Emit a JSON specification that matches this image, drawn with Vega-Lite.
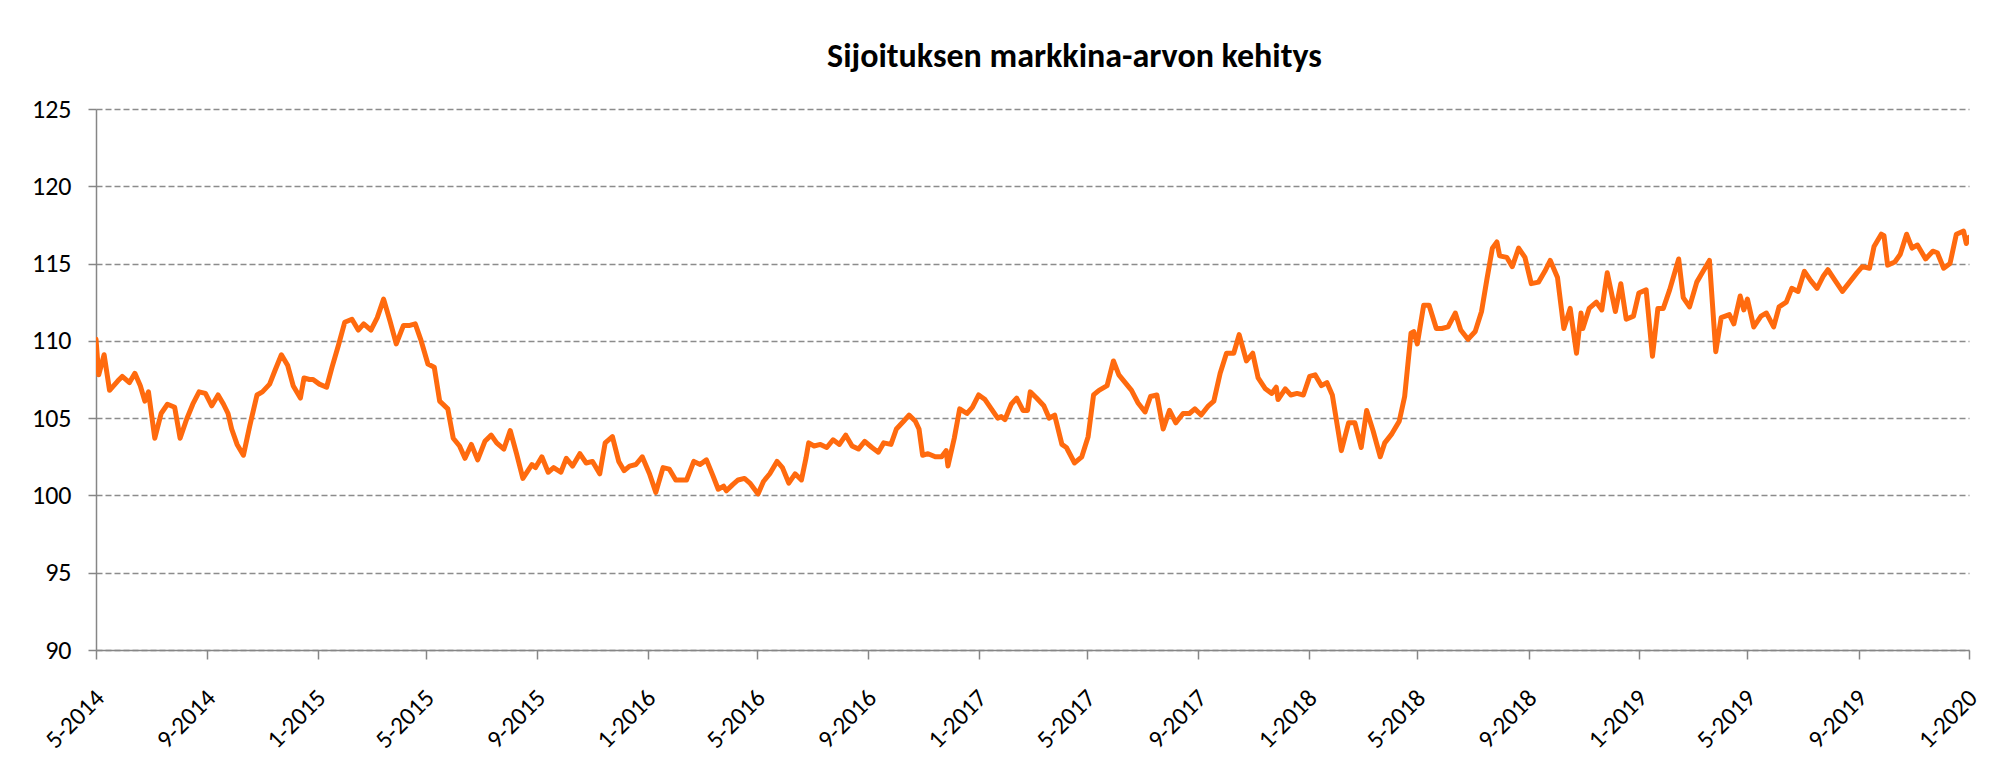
{
  "$schema": "https://vega.github.io/schema/vega-lite/v6.json",
  "width": 1873,
  "height": 541,
  "autosize": {"type": "none"},
  "padding": {"left": 96, "top": 109, "right": 24, "bottom": 112},
  "background": "white",
  "config": {"view": {"stroke": null}, "font": "Lato"},
  "title": {
    "text": "Sijoituksen markkina-arvon kehitys",
    "font": "Carlito, Lato",
    "fontSize": 34,
    "fontWeight": "bold",
    "color": "black",
    "anchor": "middle",
    "frame": "group",
    "dx": 42,
    "offset": -5,
    "baseline": "alphabetic"
  },
  "data": {
    "values": [
      {"date": "2014-05-01", "value": 110.1},
      {"date": "2014-05-04", "value": 107.8},
      {"date": "2014-05-10", "value": 109.1},
      {"date": "2014-05-16", "value": 106.8},
      {"date": "2014-05-25", "value": 107.4},
      {"date": "2014-05-30", "value": 107.7},
      {"date": "2014-06-07", "value": 107.3},
      {"date": "2014-06-13", "value": 107.9},
      {"date": "2014-06-19", "value": 107.1},
      {"date": "2014-06-24", "value": 106.1},
      {"date": "2014-06-28", "value": 106.7},
      {"date": "2014-07-05", "value": 103.7},
      {"date": "2014-07-12", "value": 105.3},
      {"date": "2014-07-19", "value": 105.9},
      {"date": "2014-07-27", "value": 105.7},
      {"date": "2014-08-02", "value": 103.7},
      {"date": "2014-08-09", "value": 104.9},
      {"date": "2014-08-16", "value": 105.9},
      {"date": "2014-08-23", "value": 106.7},
      {"date": "2014-08-30", "value": 106.6},
      {"date": "2014-09-06", "value": 105.8},
      {"date": "2014-09-13", "value": 106.5},
      {"date": "2014-09-19", "value": 105.9},
      {"date": "2014-09-24", "value": 105.3},
      {"date": "2014-09-28", "value": 104.3},
      {"date": "2014-10-04", "value": 103.3},
      {"date": "2014-10-11", "value": 102.6},
      {"date": "2014-10-18", "value": 104.5},
      {"date": "2014-10-26", "value": 106.5},
      {"date": "2014-11-01", "value": 106.7},
      {"date": "2014-11-09", "value": 107.2},
      {"date": "2014-11-15", "value": 108.1},
      {"date": "2014-11-22", "value": 109.1},
      {"date": "2014-11-29", "value": 108.4},
      {"date": "2014-12-05", "value": 107.1},
      {"date": "2014-12-13", "value": 106.3},
      {"date": "2014-12-17", "value": 107.6},
      {"date": "2014-12-23", "value": 107.5},
      {"date": "2014-12-27", "value": 107.5},
      {"date": "2015-01-03", "value": 107.2},
      {"date": "2015-01-11", "value": 107.0},
      {"date": "2015-01-17", "value": 108.3},
      {"date": "2015-01-24", "value": 109.7},
      {"date": "2015-01-31", "value": 111.2},
      {"date": "2015-02-08", "value": 111.4},
      {"date": "2015-02-15", "value": 110.7},
      {"date": "2015-02-21", "value": 111.1},
      {"date": "2015-03-01", "value": 110.7},
      {"date": "2015-03-08", "value": 111.5},
      {"date": "2015-03-15", "value": 112.7},
      {"date": "2015-03-22", "value": 111.3},
      {"date": "2015-03-29", "value": 109.8},
      {"date": "2015-04-06", "value": 111.0},
      {"date": "2015-04-13", "value": 111.0},
      {"date": "2015-04-19", "value": 111.1},
      {"date": "2015-04-25", "value": 110.1},
      {"date": "2015-05-03", "value": 108.5},
      {"date": "2015-05-10", "value": 108.3},
      {"date": "2015-05-16", "value": 106.1},
      {"date": "2015-05-25", "value": 105.6},
      {"date": "2015-05-31", "value": 103.7},
      {"date": "2015-06-07", "value": 103.2},
      {"date": "2015-06-13", "value": 102.4},
      {"date": "2015-06-20", "value": 103.3},
      {"date": "2015-06-27", "value": 102.3},
      {"date": "2015-07-05", "value": 103.5},
      {"date": "2015-07-12", "value": 103.9},
      {"date": "2015-07-18", "value": 103.4},
      {"date": "2015-07-26", "value": 103.0},
      {"date": "2015-08-02", "value": 104.2},
      {"date": "2015-08-09", "value": 102.7},
      {"date": "2015-08-16", "value": 101.1},
      {"date": "2015-08-26", "value": 102.0},
      {"date": "2015-08-30", "value": 101.8},
      {"date": "2015-09-06", "value": 102.5},
      {"date": "2015-09-13", "value": 101.5},
      {"date": "2015-09-19", "value": 101.8},
      {"date": "2015-09-27", "value": 101.5},
      {"date": "2015-10-03", "value": 102.4},
      {"date": "2015-10-10", "value": 101.9},
      {"date": "2015-10-18", "value": 102.7},
      {"date": "2015-10-25", "value": 102.1},
      {"date": "2015-11-01", "value": 102.2},
      {"date": "2015-11-09", "value": 101.4},
      {"date": "2015-11-15", "value": 103.4},
      {"date": "2015-11-23", "value": 103.8},
      {"date": "2015-11-30", "value": 102.2},
      {"date": "2015-12-06", "value": 101.6},
      {"date": "2015-12-12", "value": 101.9},
      {"date": "2015-12-19", "value": 102.0},
      {"date": "2015-12-26", "value": 102.5},
      {"date": "2016-01-03", "value": 101.4},
      {"date": "2016-01-10", "value": 100.2},
      {"date": "2016-01-18", "value": 101.8},
      {"date": "2016-01-25", "value": 101.7},
      {"date": "2016-02-01", "value": 101.0},
      {"date": "2016-02-13", "value": 101.0},
      {"date": "2016-02-21", "value": 102.2},
      {"date": "2016-02-28", "value": 102.0},
      {"date": "2016-03-06", "value": 102.3},
      {"date": "2016-03-13", "value": 101.3},
      {"date": "2016-03-19", "value": 100.4},
      {"date": "2016-03-25", "value": 100.6},
      {"date": "2016-03-28", "value": 100.3},
      {"date": "2016-04-04", "value": 100.7},
      {"date": "2016-04-10", "value": 101.0},
      {"date": "2016-04-17", "value": 101.1},
      {"date": "2016-04-23", "value": 100.8},
      {"date": "2016-05-02", "value": 100.1},
      {"date": "2016-05-08", "value": 100.9},
      {"date": "2016-05-15", "value": 101.4},
      {"date": "2016-05-23", "value": 102.2},
      {"date": "2016-05-29", "value": 101.8},
      {"date": "2016-06-05", "value": 100.8},
      {"date": "2016-06-12", "value": 101.4},
      {"date": "2016-06-19", "value": 101.0},
      {"date": "2016-06-24", "value": 102.4},
      {"date": "2016-06-27", "value": 103.4},
      {"date": "2016-07-03", "value": 103.2},
      {"date": "2016-07-10", "value": 103.3},
      {"date": "2016-07-17", "value": 103.1},
      {"date": "2016-07-24", "value": 103.6},
      {"date": "2016-07-31", "value": 103.3},
      {"date": "2016-08-07", "value": 103.9},
      {"date": "2016-08-14", "value": 103.2},
      {"date": "2016-08-21", "value": 103.0},
      {"date": "2016-08-28", "value": 103.5},
      {"date": "2016-09-05", "value": 103.1},
      {"date": "2016-09-12", "value": 102.8},
      {"date": "2016-09-18", "value": 103.4},
      {"date": "2016-09-26", "value": 103.3},
      {"date": "2016-10-02", "value": 104.3},
      {"date": "2016-10-10", "value": 104.8},
      {"date": "2016-10-16", "value": 105.2},
      {"date": "2016-10-23", "value": 104.8},
      {"date": "2016-10-27", "value": 104.3},
      {"date": "2016-10-31", "value": 102.6},
      {"date": "2016-11-06", "value": 102.7},
      {"date": "2016-11-14", "value": 102.5},
      {"date": "2016-11-21", "value": 102.5},
      {"date": "2016-11-26", "value": 102.9},
      {"date": "2016-11-28", "value": 101.9},
      {"date": "2016-12-05", "value": 103.7},
      {"date": "2016-12-11", "value": 105.6},
      {"date": "2016-12-19", "value": 105.3},
      {"date": "2016-12-25", "value": 105.7},
      {"date": "2017-01-01", "value": 106.5},
      {"date": "2017-01-08", "value": 106.2},
      {"date": "2017-01-15", "value": 105.6},
      {"date": "2017-01-22", "value": 105.0},
      {"date": "2017-01-26", "value": 105.1},
      {"date": "2017-01-30", "value": 104.9},
      {"date": "2017-02-06", "value": 105.9},
      {"date": "2017-02-12", "value": 106.3},
      {"date": "2017-02-19", "value": 105.5},
      {"date": "2017-02-24", "value": 105.5},
      {"date": "2017-02-27", "value": 106.7},
      {"date": "2017-03-06", "value": 106.3},
      {"date": "2017-03-14", "value": 105.8},
      {"date": "2017-03-20", "value": 105.0},
      {"date": "2017-03-26", "value": 105.2},
      {"date": "2017-04-03", "value": 103.3},
      {"date": "2017-04-08", "value": 103.1},
      {"date": "2017-04-17", "value": 102.1},
      {"date": "2017-04-25", "value": 102.5},
      {"date": "2017-05-02", "value": 103.8},
      {"date": "2017-05-08", "value": 106.5},
      {"date": "2017-05-14", "value": 106.8},
      {"date": "2017-05-23", "value": 107.1},
      {"date": "2017-05-30", "value": 108.7},
      {"date": "2017-06-05", "value": 107.8},
      {"date": "2017-06-12", "value": 107.3},
      {"date": "2017-06-19", "value": 106.8},
      {"date": "2017-06-26", "value": 106.0},
      {"date": "2017-07-04", "value": 105.4},
      {"date": "2017-07-10", "value": 106.4},
      {"date": "2017-07-17", "value": 106.5},
      {"date": "2017-07-24", "value": 104.3},
      {"date": "2017-07-31", "value": 105.5},
      {"date": "2017-08-07", "value": 104.7},
      {"date": "2017-08-15", "value": 105.3},
      {"date": "2017-08-22", "value": 105.3},
      {"date": "2017-08-28", "value": 105.6},
      {"date": "2017-09-04", "value": 105.2},
      {"date": "2017-09-12", "value": 105.8},
      {"date": "2017-09-18", "value": 106.1},
      {"date": "2017-09-25", "value": 107.9},
      {"date": "2017-10-02", "value": 109.2},
      {"date": "2017-10-10", "value": 109.2},
      {"date": "2017-10-16", "value": 110.4},
      {"date": "2017-10-24", "value": 108.7},
      {"date": "2017-10-31", "value": 109.2},
      {"date": "2017-11-06", "value": 107.6},
      {"date": "2017-11-14", "value": 106.9},
      {"date": "2017-11-21", "value": 106.6},
      {"date": "2017-11-26", "value": 107.0},
      {"date": "2017-11-28", "value": 106.2},
      {"date": "2017-12-06", "value": 106.9},
      {"date": "2017-12-12", "value": 106.5},
      {"date": "2017-12-19", "value": 106.6},
      {"date": "2017-12-26", "value": 106.5},
      {"date": "2018-01-02", "value": 107.7},
      {"date": "2018-01-08", "value": 107.8},
      {"date": "2018-01-15", "value": 107.1},
      {"date": "2018-01-21", "value": 107.3},
      {"date": "2018-01-27", "value": 106.5},
      {"date": "2018-02-06", "value": 102.9},
      {"date": "2018-02-14", "value": 104.7},
      {"date": "2018-02-21", "value": 104.7},
      {"date": "2018-02-28", "value": 103.1},
      {"date": "2018-03-06", "value": 105.5},
      {"date": "2018-03-13", "value": 104.2},
      {"date": "2018-03-21", "value": 102.5},
      {"date": "2018-03-26", "value": 103.4},
      {"date": "2018-04-03", "value": 104.0},
      {"date": "2018-04-11", "value": 104.8},
      {"date": "2018-04-17", "value": 106.4},
      {"date": "2018-04-24", "value": 110.5},
      {"date": "2018-04-27", "value": 110.6},
      {"date": "2018-05-01", "value": 109.8},
      {"date": "2018-05-08", "value": 112.3},
      {"date": "2018-05-14", "value": 112.3},
      {"date": "2018-05-22", "value": 110.8},
      {"date": "2018-05-28", "value": 110.8},
      {"date": "2018-06-04", "value": 110.9},
      {"date": "2018-06-12", "value": 111.8},
      {"date": "2018-06-18", "value": 110.7},
      {"date": "2018-06-26", "value": 110.1},
      {"date": "2018-07-04", "value": 110.6},
      {"date": "2018-07-11", "value": 111.9},
      {"date": "2018-07-17", "value": 114.0},
      {"date": "2018-07-23", "value": 116.0},
      {"date": "2018-07-28", "value": 116.4},
      {"date": "2018-07-31", "value": 115.5},
      {"date": "2018-08-08", "value": 115.4},
      {"date": "2018-08-14", "value": 114.8},
      {"date": "2018-08-21", "value": 116.0},
      {"date": "2018-08-28", "value": 115.4},
      {"date": "2018-09-04", "value": 113.7},
      {"date": "2018-09-12", "value": 113.8},
      {"date": "2018-09-19", "value": 114.5},
      {"date": "2018-09-25", "value": 115.2},
      {"date": "2018-10-03", "value": 114.1},
      {"date": "2018-10-10", "value": 110.8},
      {"date": "2018-10-17", "value": 112.1},
      {"date": "2018-10-24", "value": 109.2},
      {"date": "2018-10-29", "value": 111.8},
      {"date": "2018-10-31", "value": 110.8},
      {"date": "2018-11-07", "value": 112.1},
      {"date": "2018-11-15", "value": 112.5},
      {"date": "2018-11-21", "value": 112.0},
      {"date": "2018-11-27", "value": 114.4},
      {"date": "2018-12-06", "value": 111.9},
      {"date": "2018-12-12", "value": 113.7},
      {"date": "2018-12-18", "value": 111.4},
      {"date": "2018-12-26", "value": 111.6},
      {"date": "2019-01-01", "value": 113.1},
      {"date": "2019-01-09", "value": 113.3},
      {"date": "2019-01-16", "value": 109.0},
      {"date": "2019-01-22", "value": 112.1},
      {"date": "2019-01-28", "value": 112.1},
      {"date": "2019-02-04", "value": 113.3},
      {"date": "2019-02-14", "value": 115.3},
      {"date": "2019-02-19", "value": 112.8},
      {"date": "2019-02-26", "value": 112.2},
      {"date": "2019-03-06", "value": 113.8},
      {"date": "2019-03-12", "value": 114.4},
      {"date": "2019-03-20", "value": 115.2},
      {"date": "2019-03-27", "value": 109.3},
      {"date": "2019-04-02", "value": 111.5},
      {"date": "2019-04-11", "value": 111.7},
      {"date": "2019-04-16", "value": 111.1},
      {"date": "2019-04-23", "value": 112.9},
      {"date": "2019-04-27", "value": 112.0},
      {"date": "2019-05-01", "value": 112.7},
      {"date": "2019-05-08", "value": 110.9},
      {"date": "2019-05-16", "value": 111.6},
      {"date": "2019-05-22", "value": 111.8},
      {"date": "2019-05-30", "value": 110.9},
      {"date": "2019-06-05", "value": 112.2},
      {"date": "2019-06-13", "value": 112.5},
      {"date": "2019-06-19", "value": 113.4},
      {"date": "2019-06-26", "value": 113.2},
      {"date": "2019-07-03", "value": 114.5},
      {"date": "2019-07-10", "value": 113.9},
      {"date": "2019-07-17", "value": 113.4},
      {"date": "2019-07-24", "value": 114.2},
      {"date": "2019-07-29", "value": 114.6},
      {"date": "2019-08-06", "value": 113.9},
      {"date": "2019-08-14", "value": 113.2},
      {"date": "2019-08-22", "value": 113.8},
      {"date": "2019-08-30", "value": 114.4},
      {"date": "2019-09-05", "value": 114.8},
      {"date": "2019-09-13", "value": 114.7},
      {"date": "2019-09-18", "value": 116.1},
      {"date": "2019-09-26", "value": 116.9},
      {"date": "2019-09-29", "value": 116.8},
      {"date": "2019-10-03", "value": 114.9},
      {"date": "2019-10-11", "value": 115.1},
      {"date": "2019-10-17", "value": 115.6},
      {"date": "2019-10-24", "value": 116.9},
      {"date": "2019-10-30", "value": 116.0},
      {"date": "2019-11-05", "value": 116.2},
      {"date": "2019-11-14", "value": 115.3},
      {"date": "2019-11-22", "value": 115.8},
      {"date": "2019-11-27", "value": 115.7},
      {"date": "2019-12-04", "value": 114.7},
      {"date": "2019-12-11", "value": 115.0},
      {"date": "2019-12-18", "value": 116.9},
      {"date": "2019-12-26", "value": 117.1},
      {"date": "2019-12-29", "value": 116.3},
      {"date": "2020-01-01", "value": 116.7}
    ]
  },
  "mark": {"type": "line", "color": "#ff6a0e", "strokeWidth": 5, "strokeJoin": "round", "strokeCap": "round", "clip": true},
  "encoding": {
    "x": {
      "field": "date",
      "type": "temporal",
      "scale": {
        "type": "utc",
        "nice": false,
        "domain": [
          {"year": 2014, "month": 5, "date": 1, "utc": true},
          {"year": 2020, "month": 1, "date": 1, "utc": true}
        ]
      },
      "axis": {
        "title": null,
        "grid": false,
        "values": [
          {"year": 2014, "month": 5, "date": 1, "utc": true},
          {"year": 2014, "month": 9, "date": 1, "utc": true},
          {"year": 2015, "month": 1, "date": 1, "utc": true},
          {"year": 2015, "month": 5, "date": 1, "utc": true},
          {"year": 2015, "month": 9, "date": 1, "utc": true},
          {"year": 2016, "month": 1, "date": 1, "utc": true},
          {"year": 2016, "month": 5, "date": 1, "utc": true},
          {"year": 2016, "month": 9, "date": 1, "utc": true},
          {"year": 2017, "month": 1, "date": 1, "utc": true},
          {"year": 2017, "month": 5, "date": 1, "utc": true},
          {"year": 2017, "month": 9, "date": 1, "utc": true},
          {"year": 2018, "month": 1, "date": 1, "utc": true},
          {"year": 2018, "month": 5, "date": 1, "utc": true},
          {"year": 2018, "month": 9, "date": 1, "utc": true},
          {"year": 2019, "month": 1, "date": 1, "utc": true},
          {"year": 2019, "month": 5, "date": 1, "utc": true},
          {"year": 2019, "month": 9, "date": 1, "utc": true},
          {"year": 2020, "month": 1, "date": 1, "utc": true}
        ],
        "format": "%-m-%Y",
        "labelAngle": -45,
        "labelFont": "Carlito, Lato",
        "labelFontSize": 25,
        "labelColor": "black",
        "labelPadding": 26,
        "labelOffset": -5,
        "labelOverlap": false,
        "labelFlush": false,
        "labelBound": false,
        "tickSize": 9,
        "tickColor": "#868686",
        "tickWidth": 1.5,
        "domainColor": "#868686",
        "domainWidth": 1.5
      }
    },
    "y": {
      "field": "value",
      "type": "quantitative",
      "scale": {"domain": [90, 125], "nice": false, "zero": false},
      "axis": {
        "title": null,
        "values": [90, 95, 100, 105, 110, 115, 120, 125],
        "labelFont": "Carlito, Lato",
        "labelFontSize": 26,
        "labelColor": "black",
        "labelPadding": 17,
        "tickSize": 8,
        "tickColor": "#868686",
        "tickWidth": 1.5,
        "domainColor": "#868686",
        "domainWidth": 1.5,
        "grid": true,
        "gridColor": "#8c8c8c",
        "gridWidth": 1.3,
        "gridDash": [6, 3]
      }
    }
  }
}
